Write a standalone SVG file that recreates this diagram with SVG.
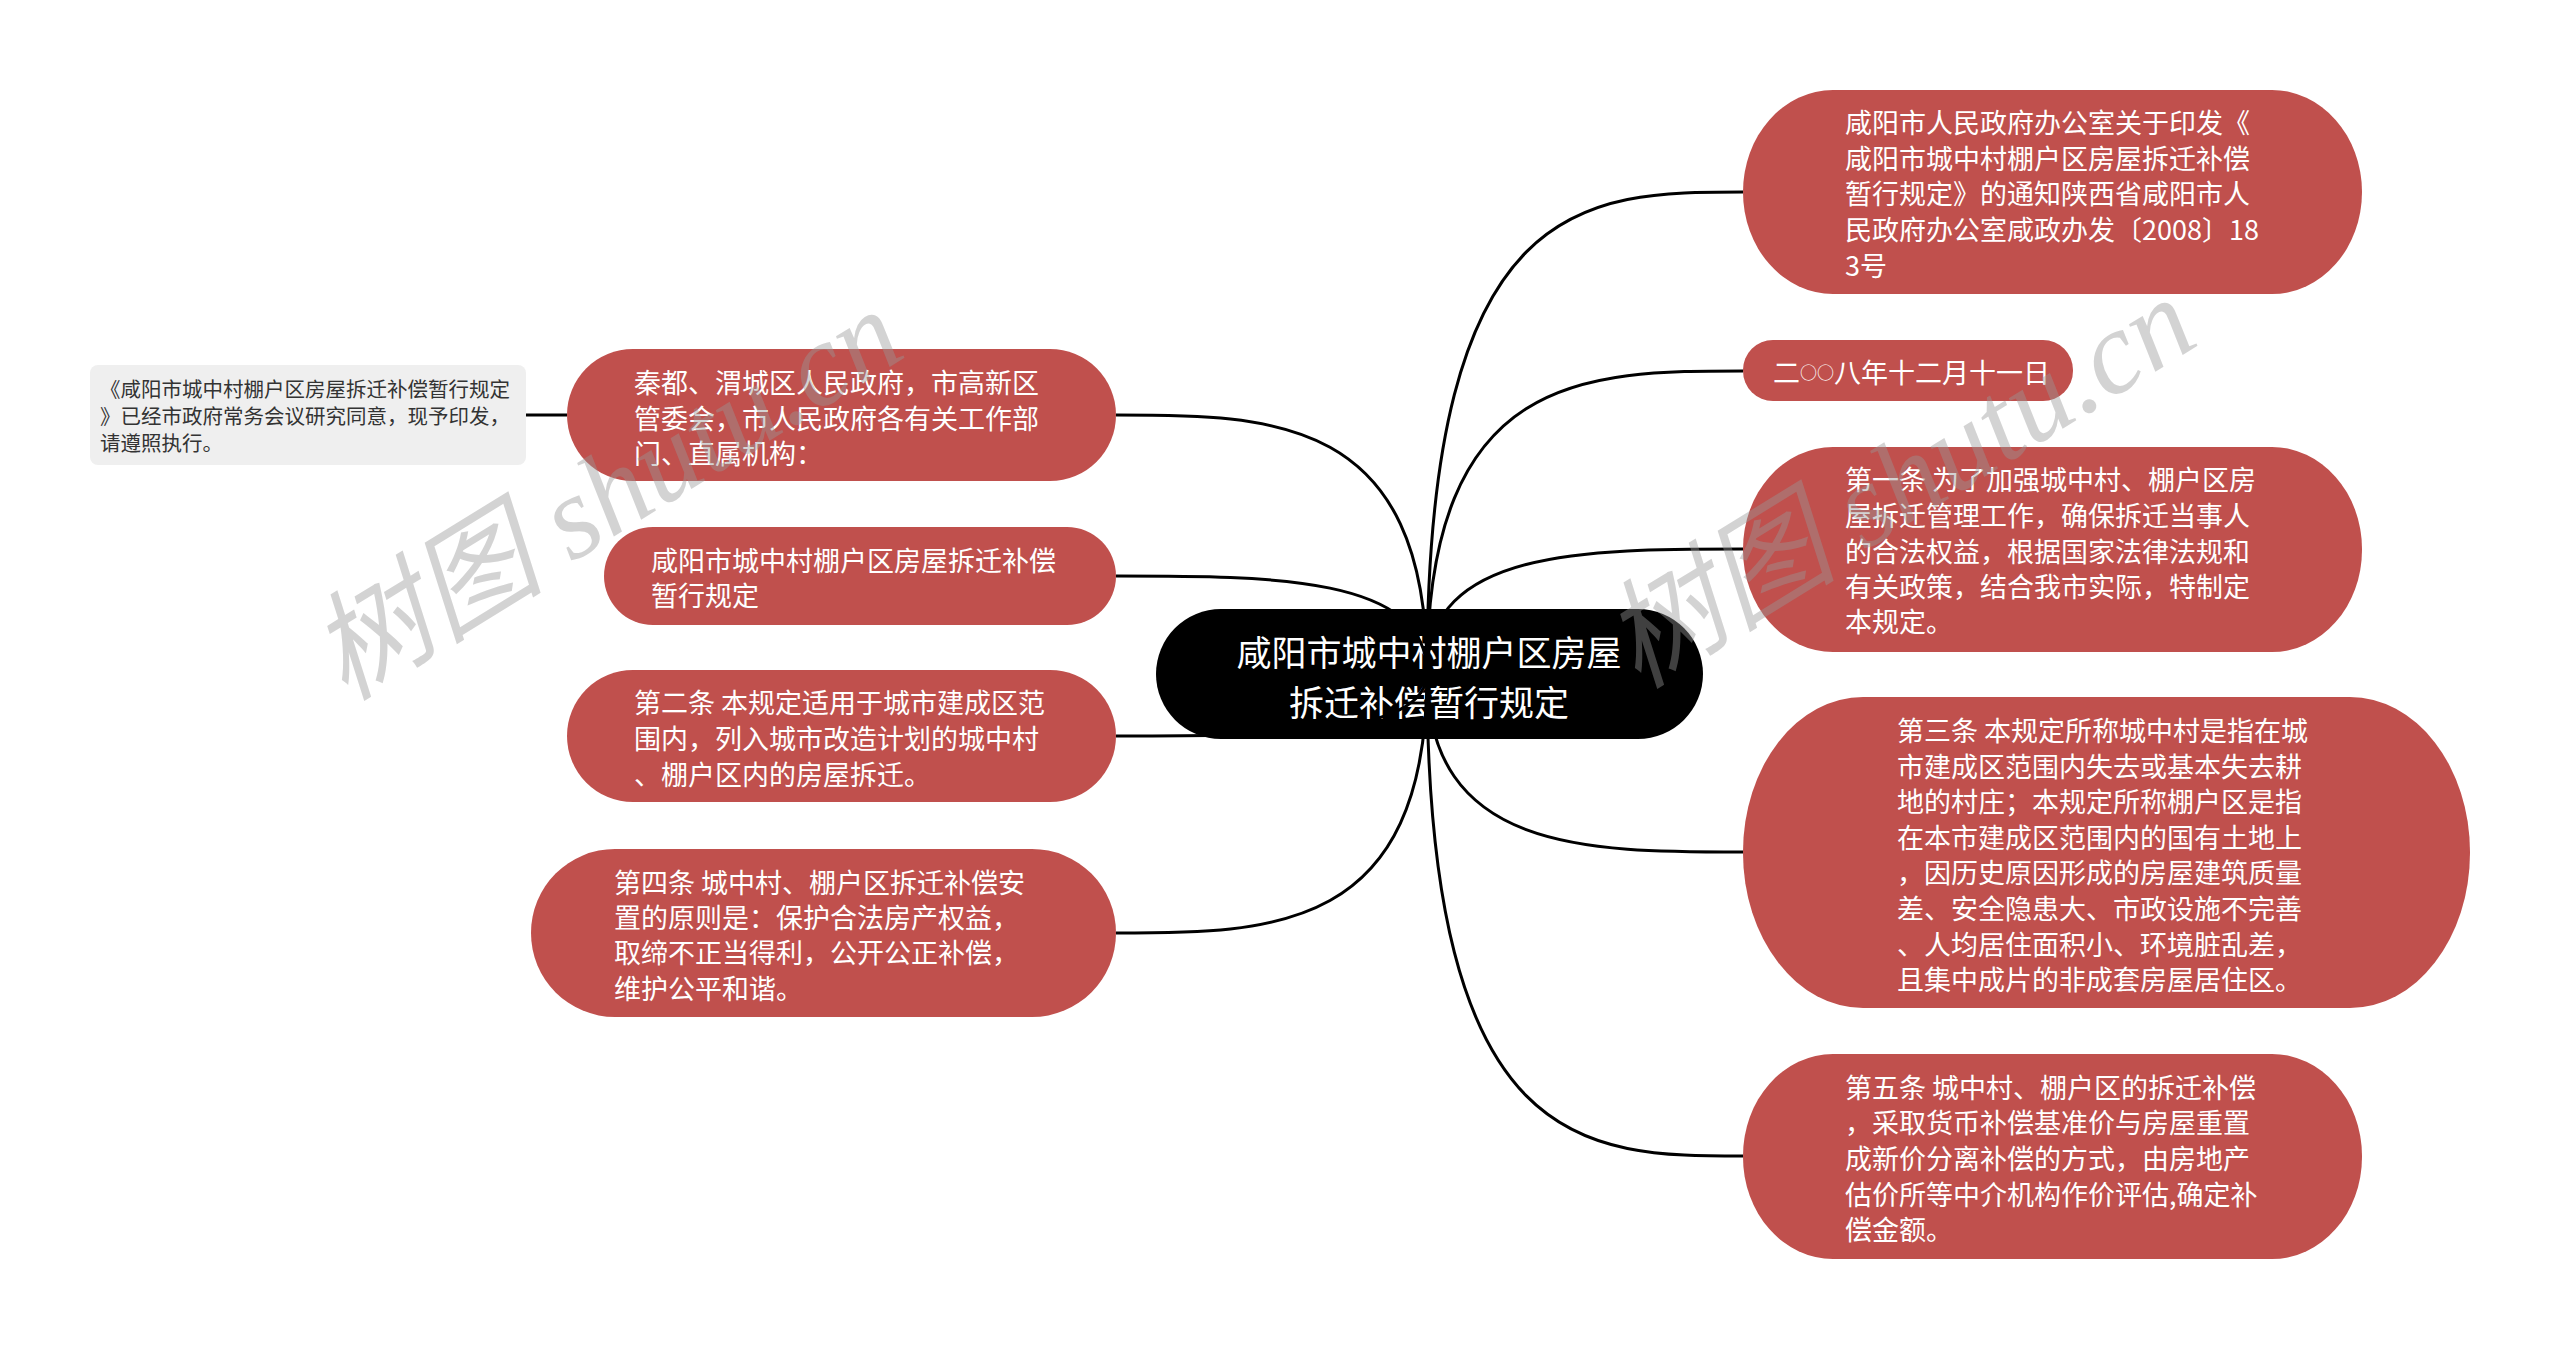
<svg xmlns="http://www.w3.org/2000/svg" width="2560" height="1349" viewBox="0 0 2560 1349">
<style>
.bg{fill:#ffffff}
.link{fill:none;stroke:#000000;stroke-width:3}
.red{fill:#c0504d}
.gray{fill:#efefef}
.root{fill:#000000}
.t{font-family:"Noto Sans CJK SC","Noto Sans",sans-serif;font-size:27px;fill:#ffffff;dominant-baseline:central}
.tg{font-family:"Noto Sans CJK SC","Noto Sans",sans-serif;font-size:20.5px;fill:#333333;dominant-baseline:central}
.tr{font-family:"Noto Sans CJK SC","Noto Sans",sans-serif;font-size:35px;fill:#ffffff;dominant-baseline:central;text-anchor:middle}
.wm{font-family:"Liberation Serif","Noto Sans CJK SC",serif;font-style:italic;font-size:118px;fill:#989898;opacity:0.42}
</style>
<rect class="bg" x="0" y="0" width="2560" height="1349"/>
<g id="root">
<rect class="root" x="1156" y="609" width="547" height="130" rx="65" ry="65"/>
<text class="tr" x="1429" y="650">咸阳市城中村棚户区房屋</text>
<text class="tr" x="1429" y="700">拆迁补偿暂行规定</text>
</g>
<g id="connectors">
<path class="link" d="M1427 673 C1427 192 1586 192 1743 192"/>
<path class="link" d="M1427 673 C1427 371 1586 371 1743 371"/>
<path class="link" d="M1427 673 C1427 549 1586 549 1743 549"/>
<path class="link" d="M1427 673 C1427 852 1586 852 1743 852"/>
<path class="link" d="M1427 673 C1427 1156 1586 1156 1743 1156"/>
<path class="link" d="M1427 673 C1427 415 1272 415 1116 415"/>
<path class="link" d="M1427 673 C1427 576 1272 576 1116 576"/>
<path class="link" d="M1427 673 C1427 736 1272 736 1116 736"/>
<path class="link" d="M1427 673 C1427 933 1272 933 1116 933"/>
<path class="link" d="M526 415 L567 415"/>
</g>
<g id="node-notice">
<rect class="red" x="1743" y="90" width="619" height="204" rx="90" ry="102"/>
<text class="t" x="1845" y="121">咸阳市人民政府办公室关于印发《</text>
<text class="t" x="1845" y="157">咸阳市城中村棚户区房屋拆迁补偿</text>
<text class="t" x="1845" y="192">暂行规定》的通知陕西省咸阳市人</text>
<text class="t" x="1845" y="228">民政府办公室咸政办发〔2008〕18</text>
<text class="t" x="1845" y="264">3号</text>
</g>
<g id="node-date">
<rect class="red" x="1743" y="340" width="330" height="61" rx="30" ry="30"/>
<text class="t" x="1773" y="371">二<tspan font-size="17">○○</tspan>八年十二月十一日</text>
</g>
<g id="node-art1">
<rect class="red" x="1743" y="447" width="619" height="205" rx="90" ry="102"/>
<text class="t" x="1845" y="478">第一条 为了加强城中村、棚户区房</text>
<text class="t" x="1845" y="514">屋拆迁管理工作，确保拆迁当事人</text>
<text class="t" x="1845" y="550">的合法权益，根据国家法律法规和</text>
<text class="t" x="1845" y="585">有关政策，结合我市实际，特制定</text>
<text class="t" x="1845" y="620">本规定。</text>
</g>
<g id="node-art3">
<rect class="red" x="1743" y="697" width="727" height="311" rx="120" ry="155"/>
<text class="t" x="1897" y="729">第三条 本规定所称城中村是指在城</text>
<text class="t" x="1897" y="765">市建成区范围内失去或基本失去耕</text>
<text class="t" x="1897" y="800">地的村庄；本规定所称棚户区是指</text>
<text class="t" x="1897" y="836">在本市建成区范围内的国有土地上</text>
<text class="t" x="1897" y="871">，因历史原因形成的房屋建筑质量</text>
<text class="t" x="1897" y="907">差、安全隐患大、市政设施不完善</text>
<text class="t" x="1897" y="943">、人均居住面积小、环境脏乱差，</text>
<text class="t" x="1897" y="978">且集中成片的非成套房屋居住区。</text>
</g>
<g id="node-art5">
<rect class="red" x="1743" y="1054" width="619" height="205" rx="90" ry="102"/>
<text class="t" x="1845" y="1086">第五条 城中村、棚户区的拆迁补偿</text>
<text class="t" x="1845" y="1121">，采取货币补偿基准价与房屋重置</text>
<text class="t" x="1845" y="1157">成新价分离补偿的方式，由房地产</text>
<text class="t" x="1845" y="1193">估价所等中介机构作价评估,确定补</text>
<text class="t" x="1845" y="1228">偿金额。</text>
</g>
<g id="node-recipients">
<rect class="red" x="567" y="349" width="549" height="132" rx="66" ry="66"/>
<text class="t" x="634" y="381">秦都、渭城区人民政府，市高新区</text>
<text class="t" x="634" y="417">管委会，市人民政府各有关工作部</text>
<text class="t" x="634" y="452">门、直属机构：</text>
</g>
<g id="node-title">
<rect class="red" x="604" y="527" width="512" height="98" rx="49" ry="49"/>
<text class="t" x="651" y="559">咸阳市城中村棚户区房屋拆迁补偿</text>
<text class="t" x="651" y="594">暂行规定</text>
</g>
<g id="node-art2">
<rect class="red" x="567" y="670" width="549" height="132" rx="66" ry="66"/>
<text class="t" x="634" y="701">第二条 本规定适用于城市建成区范</text>
<text class="t" x="634" y="737">围内，列入城市改造计划的城中村</text>
<text class="t" x="634" y="773">、棚户区内的房屋拆迁。</text>
</g>
<g id="node-art4">
<rect class="red" x="531" y="849" width="585" height="168" rx="84" ry="84"/>
<text class="t" x="614" y="881">第四条 城中村、棚户区拆迁补偿安</text>
<text class="t" x="614" y="916">置的原则是：保护合法房产权益，</text>
<text class="t" x="614" y="951">取缔不正当得利，公开公正补偿，</text>
<text class="t" x="614" y="987">维护公平和谐。</text>
</g>
<g id="node-note">
<rect class="gray" x="90" y="365" width="436" height="100" rx="8" ry="8"/>
<text class="tg" x="100" y="388">《咸阳市城中村棚户区房屋拆迁补偿暂行规定</text>
<text class="tg" x="100" y="415">》已经市政府常务会议研究同意，现予印发，</text>
<text class="tg" x="100" y="442">请遵照执行。</text>
</g>
<g id="watermarks">
<text class="wm" transform="translate(345 702) rotate(-31.6)">树图 shutu.cn</text>
<text class="wm" transform="translate(1638 690) rotate(-31.6)">树图 shutu.cn</text>
</g>
</svg>
